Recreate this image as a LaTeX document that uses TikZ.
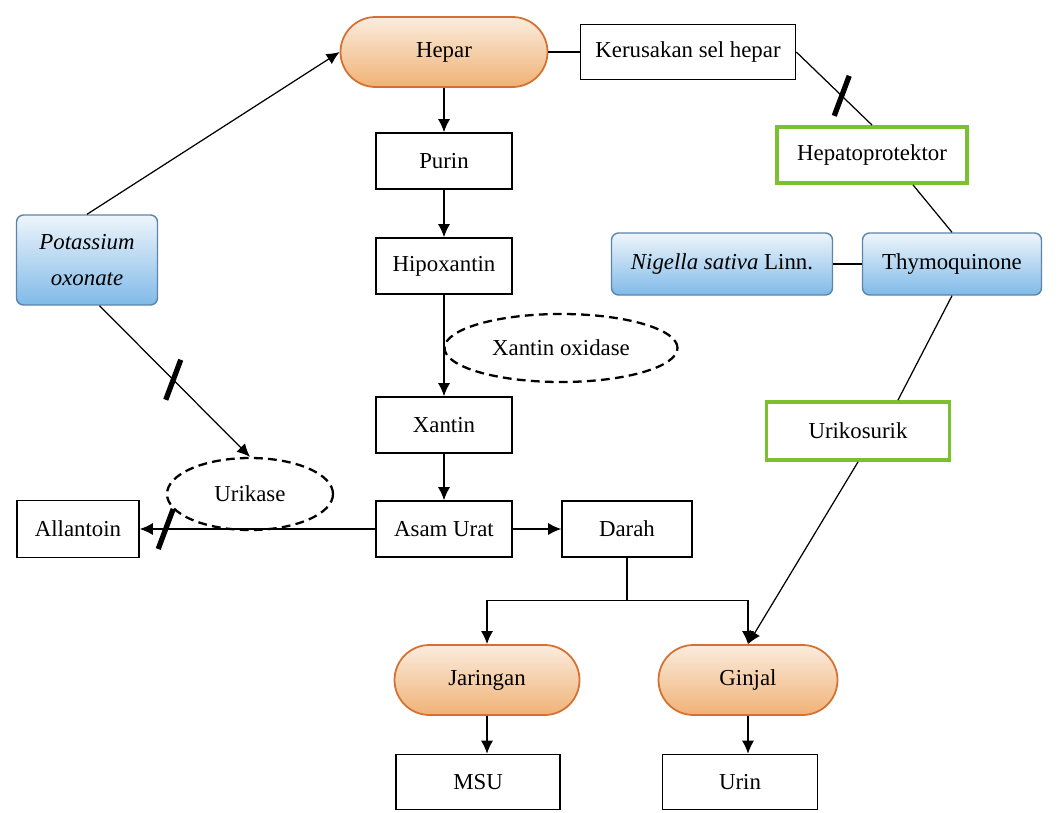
\documentclass[tikz,border=0pt]{standalone}
\usepackage{fontspec}
\setmainfont{Liberation Serif}
\usepackage{xcolor}
\usepackage{tikz}
\usetikzlibrary{shapes.geometric,calc,arrows.meta}
\definecolor{pillTop}{RGB}{251,236,222}
\definecolor{pillBot}{RGB}{240,178,118}
\definecolor{pillEdge}{RGB}{214,112,48}
\definecolor{agentTop}{RGB}{238,245,251}
\definecolor{agentBot}{RGB}{128,186,232}
\definecolor{agentEdge}{RGB}{92,132,172}
\definecolor{effGreen}{RGB}{122,192,48}

\begin{document}
\begin{tikzpicture}[font=\fontsize{13}{15}\selectfont, line width=0.7pt,
  plain/.style={draw, line width=0.9pt, minimum width=2.72cm, minimum height=1.12cm, inner sep=2pt},
  pill/.style={draw=pillEdge, line width=1pt, rounded corners=0.7cm, top color=pillTop, bottom color=pillBot, minimum height=1.4cm},
  agent/.style={draw=agentEdge, line width=0.8pt, rounded corners=4pt, top color=agentTop, bottom color=agentBot, minimum height=1.24cm},
  effect/.style={draw=effGreen, line width=2.2pt, fill=white, minimum height=1.12cm},
  enzyme/.style={ellipse, draw, dashed, line width=1.3pt, dash pattern=on 5pt off 3pt},
  flow/.style={-{Latex[length=2.6mm,width=2.4mm]}},
  cut/.style={line width=3pt}]
  \useasboundingbox (0,0) rectangle (21.14,16.24);
  % --- main pathway: hepar down to asam urat ------------------------------
  \node[pill, minimum width=4.14cm] (hepar) at (8.88,15.2) {Hepar};
  \node[plain] (purin) at (8.88,13.02) {Purin};
  \node[plain] (hipox) at (8.88,10.92) {Hipoxantin};
  \node[plain] (xantin) at (8.88,7.74) {Xantin};
  \node[plain] (asam) at (8.88,5.66) {Asam Urat};
  \node[plain, minimum width=2.6cm] (darah) at (12.54,5.66) {Darah};
  \node[plain, minimum width=2.44cm, minimum height=1.14cm] (allantoin) at (1.56,5.66) {Allantoin};
  \node[enzyme, minimum width=3.32cm, minimum height=1.44cm] (urikase) at (5.0,6.36) {Urikase};
  \node[enzyme, minimum width=4.66cm, minimum height=1.36cm] (xo) at (11.22,9.28) {Xantin oxidase};
  \node[agent, minimum width=2.82cm, minimum height=1.8cm, align=center,
        font=\fontsize{13}{20}\selectfont\itshape] (potas) at (1.74,11.04) {Potassium\\oxonate};
  % --- right branch: nigella sativa ---------------------------------------
  \node[plain, minimum width=4.3cm, minimum height=1.1cm] (kerus) at (13.76,15.2) {Kerusakan sel hepar};
  \node[effect, minimum width=3.8cm] (hepato) at (17.44,13.14) {Hepatoprotektor};
  \node[agent, minimum width=4.42cm] (nigella) at (14.44,10.96) {\textit{Nigella sativa} Linn.};
  \node[agent, minimum width=3.58cm] (thymo) at (19.04,10.96) {Thymoquinone};
  \node[effect, minimum width=3.66cm, minimum height=1.16cm] (urikos) at (17.16,7.62) {Urikosurik};
  % --- bottom: tissue and kidney ------------------------------------------
  \node[pill, minimum width=3.7cm] (jaringan) at (9.74,2.64) {Jaringan};
  \node[pill, minimum width=3.58cm] (ginjal) at (14.96,2.64) {Ginjal};
  \node[plain, minimum width=3.28cm, minimum height=1.1cm] (msu) at (9.56,0.6) {MSU};
  \node[plain, minimum width=3.1cm, minimum height=1.1cm] (urin) at (14.8,0.6) {Urin};

  % connectors
  \draw[flow] (potas.north) -- (hepar.west);
  \draw[flow] ([xshift=0.25cm]potas.south) -- coordinate[pos=0.49] (cutA) (urikase.north);
  \draw[flow] (hepar) -- (purin);
  \draw[flow] (purin) -- (hipox);
  \draw[flow] (hipox) -- (xantin);
  \draw[flow] (xantin) -- (asam);
  \draw[flow] (asam) -- (darah);
  \draw[flow] (asam.west) -- coordinate[pos=0.89] (cutB) (allantoin.east);
  \draw (hepar.east) -- (kerus.west);
  \draw (kerus.east) -- coordinate[pos=0.6] (cutC) (hepato.north);
  \draw ([xshift=0.82cm]hepato.south) -- (thymo.north);
  \draw (nigella) -- (thymo);
  \draw (thymo.south) -- ([xshift=0.8cm]urikos.north);
  \draw[flow] (urikos.south) -- (ginjal.north);
  \coordinate (split) at ($(darah.south)+(0,-0.86)$);
  \draw (darah.south) -- (split);
  \draw[flow] (split) -| (jaringan.north);
  \draw[flow] (split) -| (ginjal.north);
  \draw[flow] (jaringan.south) -- (jaringan.south |- msu.north);
  \draw[flow] (ginjal.south) -- (ginjal.south |- urin.north);
  % inhibition marks
  \foreach \c in {cutA,cutB,cutC}
    \draw[cut] ($(\c)+(0.15,0.4)$) -- ($(\c)-(0.15,0.4)$);
\end{tikzpicture}
\end{document}
